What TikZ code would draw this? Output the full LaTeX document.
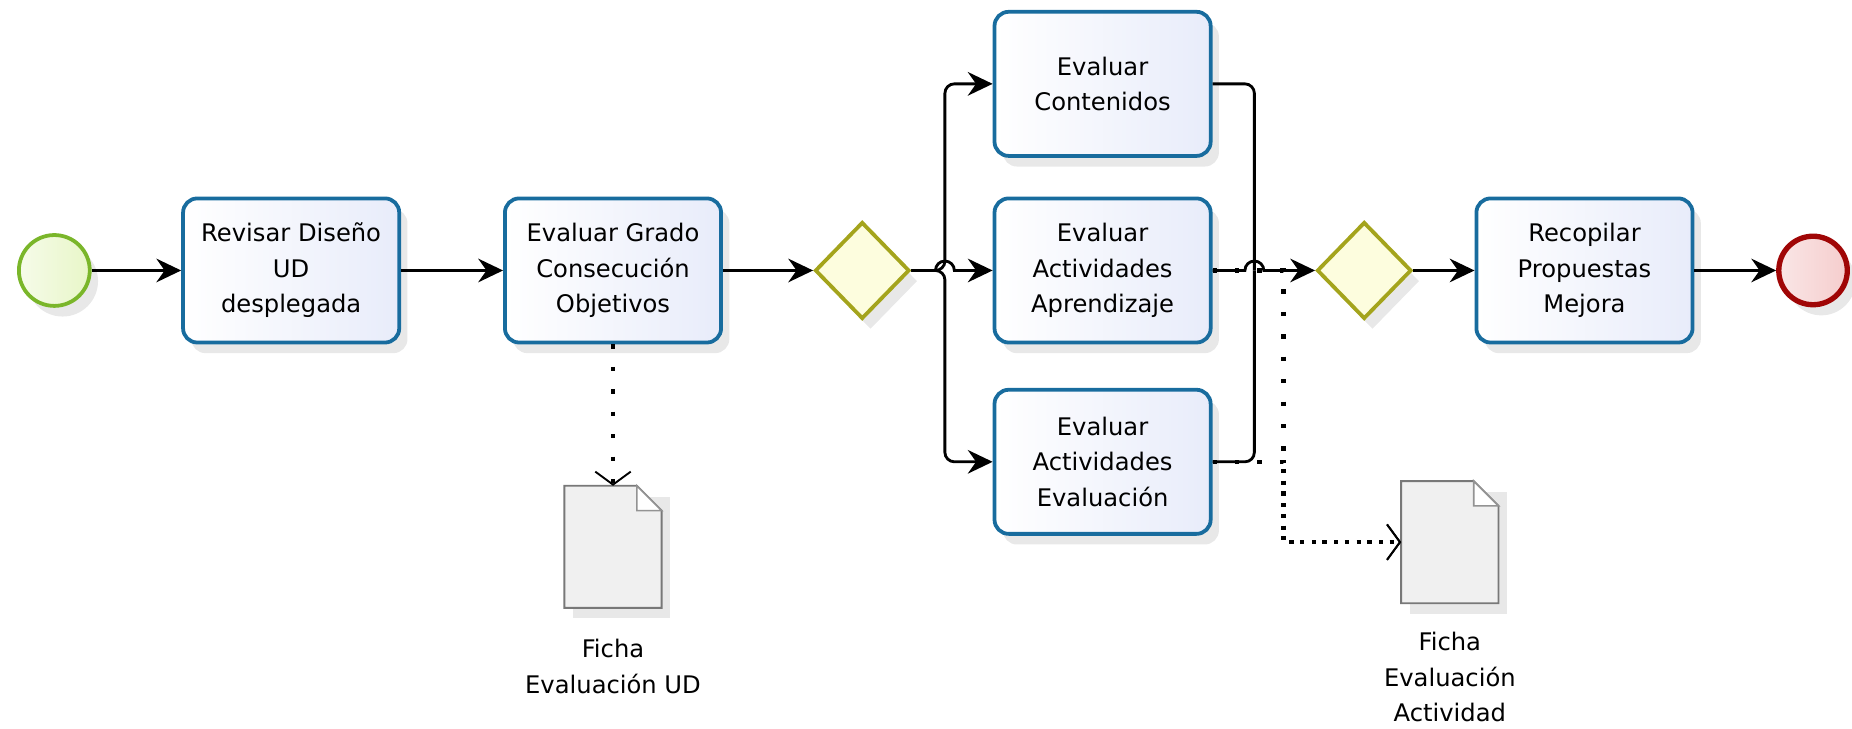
\documentclass[tikz,border=0pt]{standalone}
\usepackage{fontspec}
\setmainfont{DejaVu Sans}
\usetikzlibrary{positioning, shapes.geometric, arrows.meta, shadows}

\definecolor{taskblue}{RGB}{24,108,158}
\definecolor{taskfill}{RGB}{232,236,250}
\definecolor{startgreen}{RGB}{122,182,42}
\definecolor{startfill}{RGB}{232,246,200}
\definecolor{gatewayolive}{RGB}{164,164,28}
\definecolor{gatewayfill}{RGB}{253,253,222}
\definecolor{endred}{RGB}{160,6,6}
\definecolor{endfill}{RGB}{245,205,205}
\definecolor{docgray}{RGB}{120,120,120}
\definecolor{docfill}{RGB}{240,240,240}

\tikzset{
  softshadow/.style={drop shadow={shadow xshift=7pt, shadow yshift=-9pt, fill=black, opacity=0.09}},
  task/.style={rectangle, rounded corners=12pt, draw=taskblue, line width=3.2pt,
    left color=white, right color=taskfill, minimum width=183pt, minimum height=122pt,
    inner sep=0pt, align=center, font=\fontsize{20.5}{30}\selectfont, softshadow},
  gateway/.style={diamond, draw=gatewayolive, line width=3.2pt, fill=gatewayfill,
    minimum width=80pt, minimum height=82pt, inner sep=0pt, softshadow},
  startevent/.style={circle, draw=startgreen, line width=3.2pt, left color=white!60!startfill,
    right color=startfill, minimum size=60pt, inner sep=0pt, softshadow},
  endevent/.style={circle, draw=endred, line width=4.5pt, left color=white!50!endfill,
    right color=endfill, minimum size=58pt, inner sep=0pt, softshadow},
  doc/.style={rectangle, minimum width=82pt, minimum height=103pt, inner sep=0pt, softshadow},
  doclabel/.style={align=center, font=\fontsize{20.5}{30}\selectfont},
  flow/.style={line width=2.4pt, -{Stealth[length=21pt, width=20pt, inset=7pt]}},
  assoc/.style={line width=3.6pt, dash pattern=on 3.6pt off 15.4pt,
    -{Straight Barb[length=11pt, width=30pt, line width=1.6pt]}},
}

\begin{document}
\begin{tikzpicture}[x=1pt, y=-1pt]
    \useasboundingbox (0,0) rectangle (1568,617);

    % Nodes
    \node[startevent] at (46, 229) (start) {};
    \node[task] at (246.5, 229) (revisar) {Revisar Diseño\\UD\\desplegada};
    \node[task] at (519, 229) (grado) {Evaluar Grado\\Consecución\\Objetivos};
    \node[gateway] at (730, 229) (split) {};
    \node[task] at (933.5, 71) (contenidos) {Evaluar\\Contenidos};
    \node[task] at (933.5, 229) (aprendizaje) {Evaluar\\Actividades\\Aprendizaje};
    \node[task] at (933.5, 391) (evaluacion) {Evaluar\\Actividades\\Evaluación};
    \node[gateway] at (1155, 229) (join) {};
    \node[task] at (1341.5, 229) (recopilar) {Recopilar\\Propuestas\\Mejora};
    \node[endevent] at (1535, 229) (end) {};

    \node[doc] at (519, 463) (fichaud) {};
    \node[doc] at (1227.5, 459) (fichaact) {};
    \node[doclabel, below=23pt of fichaud] (fichaudlabel) {Ficha\\Evaluación UD};
    \node[doclabel, below=21pt of fichaact] (fichaactlabel) {Ficha\\Evaluación\\Actividad};

    % document sheets
    \foreach \d in {fichaud, fichaact} {
      \draw[draw=docgray, line width=1.6pt, fill=docfill] (\d.north west) -- ([xshift=-21pt]\d.north east)
        -- ([yshift=-21pt]\d.north east) -- (\d.south east) -- (\d.south west) -- cycle;
      \draw[draw=docgray!80, line width=1.4pt, fill=white] ([xshift=-21pt]\d.north east)
        |- ([yshift=-21pt]\d.north east) -- cycle;
    }

    \coordinate (fork) at (800, 229);
    \coordinate (merge) at (1062, 229);

    % Sequence flows
    \draw[flow] (start) -- (revisar);
    \draw[flow] (revisar) -- (grado);
    \draw[flow] (grado) -- (split);
    \draw[flow, rounded corners=8pt] (split.east) -- (fork) |- (contenidos.west);
    \draw[flow, rounded corners=8pt] (split.east) -- (fork) |- (evaluacion.west);
    \draw[flow] (split.east) -- ([xshift=-8pt]fork) arc[start angle=180, end angle=0, radius=8pt] -- (aprendizaje.west);
    \draw[line width=2.4pt, rounded corners=8pt] (contenidos.east) -| (merge);
    \draw[line width=2.4pt, rounded corners=8pt] (evaluacion.east) -| (merge);
    \draw[flow] (aprendizaje.east) -- ([xshift=-8pt]merge) arc[start angle=180, end angle=0, radius=8pt] -- (join.west);
    \draw[flow] (join) -- (recopilar);
    \draw[flow] (recopilar) -- (end);

    % Associations
    \draw[assoc] (grado.south) -- (fichaud.north);
    \draw[assoc] (aprendizaje.east) -- ++(60, 0) |- (fichaact.west);
    \draw[assoc] (evaluacion.east) -- ++(60, 0) |- (fichaact.west);

  \end{tikzpicture}
\end{document}
